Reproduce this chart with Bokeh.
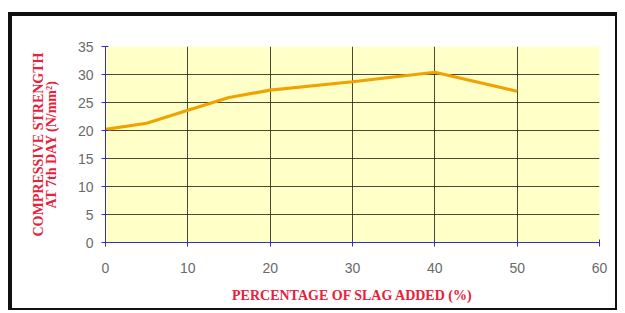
from bokeh.plotting import figure
from bokeh.embed import file_html
from bokeh.resources import INLINE
from bokeh.models import Range1d, FixedTicker

slag_pct = [0, 5, 10, 15, 20, 30, 40, 50]
strength_7d = [20.2, 21.3, 23.6, 25.9, 27.2, 28.7, 30.4, 27.0]
x_ticks = [0, 10, 20, 30, 40, 50, 60]
y_ticks = [0, 5, 10, 15, 20, 25, 30, 35]

p = figure(width=609, height=298, output_backend="svg", toolbar_location=None,
           x_range=Range1d(0, 60), y_range=Range1d(0, 35),
           min_border_left=93, min_border_right=22, min_border_top=30, min_border_bottom=72)
p.styles = {"border-style": "solid", "border-color": "#111111",
            "border-width": "4px 2px 2px 4px", "margin-top": "12px", "margin-left": "8px"}
p.background_fill_color = "#FFFFC8"
p.border_fill_color = "white"
p.outline_line_color = None

p.line(slag_pct, strength_7d, line_color="#F2A200", line_width=3.2)

for ax in (p.xaxis[0], p.yaxis[0]):
    ax.axis_line_color = "#3030C0"
    ax.major_tick_line_color = "#3030C0"
    ax.major_tick_in = 3
    ax.major_tick_out = 4
    ax.minor_tick_line_color = None
    ax.major_label_text_color = "#6A6A6A"
    ax.major_label_text_font = "Liberation Sans"
    ax.major_label_text_font_size = "14px"
    ax.axis_label_text_color = "#E8203A"
    ax.axis_label_text_font = "Liberation Serif"
    ax.axis_label_text_font_style = "bold"
    ax.axis_label_text_font_size = "14px"

p.xaxis.ticker = FixedTicker(ticks=x_ticks)
p.yaxis.ticker = FixedTicker(ticks=y_ticks)
p.xaxis.axis_label = "PERCENTAGE OF SLAG ADDED (%)"
p.yaxis.axis_label = "COMPRESSIVE STRENGTH\nAT 7th DAY (N/mm²)"
p.xaxis.major_label_standoff = 16
p.xaxis.axis_label_standoff = 12
p.yaxis.major_label_standoff = 8
p.yaxis.axis_label_standoff = 16
p.yaxis.axis_label_text_line_height = 0.85

p.xgrid.grid_line_color = "#2A2A1A"
p.ygrid.grid_line_color = "#2A2A1A"
p.xgrid.grid_line_alpha = 0.85
p.ygrid.grid_line_alpha = 0.85

open("out.html", "w").write(file_html(p, INLINE))
